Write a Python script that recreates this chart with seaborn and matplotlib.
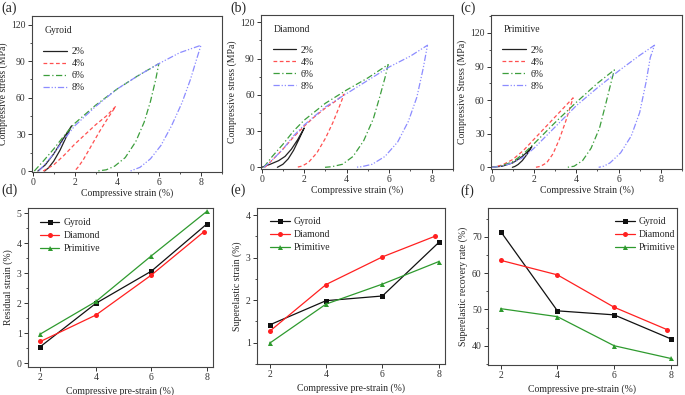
import numpy as np
import pandas as pd
import matplotlib
matplotlib.use('Agg')
import matplotlib.pyplot as plt
from matplotlib.ticker import AutoMinorLocator, MultipleLocator
import seaborn as sns

sns.set_style('ticks')
plt.rcParams['font.family'] = ['Liberation Serif', 'DejaVu Serif']

W, H = 685, 395

# ---- loading / unloading curves (strain %, stress MPa) ----
levels = ['2%', '4%', '6%', '8%']

# Gyroid
gy_load_x = {'2%': [0.25, 0.6, 1.0, 1.4, 1.85],
             '4%': [0.5, 1.0, 1.5, 2.0, 2.5, 3.0, 3.5, 3.95],
             '6%': [0.08, 0.5, 1.0, 1.5, 2.0, 3.0, 4.0, 5.0, 6.0],
             '8%': [0.3, 0.7, 1.0, 1.5, 2.0, 3.0, 4.0, 5.0, 6.0, 7.0, 8.0]}
gy_load_y = {'2%': [0, 5, 14, 25, 37],
             '4%': [0, 5, 13, 22, 30, 38, 45, 53],
             '6%': [0, 8, 18, 29, 39, 54, 67, 78, 88],
             '8%': [0, 8, 14, 26, 37, 53, 67, 78, 88, 97, 103]}
gy_unload_x = {'2%': [1.85, 1.6, 1.3, 1.0, 0.75, 0.57],
               '4%': [3.95, 3.6, 3.2, 2.8, 2.4, 2.15, 2.0],
               '6%': [6.0, 5.85, 5.6, 5.3, 4.9, 4.4, 3.9, 3.5, 3.08],
               '8%': [8.0, 7.8, 7.5, 7.1, 6.6, 6.1, 5.6, 5.1, 4.65]}
gy_unload_y = {'2%': [37, 28, 17, 8, 2.5, 0],
               '4%': [53, 44, 33, 21, 9, 3, 0],
               '6%': [88, 75, 57, 40, 24, 11, 4, 1, 0],
               '8%': [103, 92, 75, 56, 37, 21, 10, 3, 0]}

# Diamond
di_load_x = {'2%': [0.0, 0.4, 0.8, 1.1, 1.4, 1.7, 2.0],
             '4%': [0.15, 0.5, 1.0, 1.5, 2.0, 2.5, 3.0, 3.5, 3.88],
             '6%': [0.1, 0.5, 1.0, 1.5, 2.0, 3.0, 4.0, 5.0, 5.95],
             '8%': [0.1, 0.5, 1.0, 1.5, 2.0, 3.0, 4.0, 5.0, 6.0, 7.0, 7.8]}
di_load_y = {'2%': [0, 2.5, 5.5, 9, 15, 23, 32.5],
             '4%': [0, 6, 15, 25, 34, 42, 49, 55, 60.5],
             '6%': [0, 9, 19, 30, 39, 53, 64, 74, 85],
             '8%': [0, 6, 15, 26, 35, 50, 61, 72, 83, 92, 101]}
di_unload_x = {'2%': [2.0, 1.75, 1.5, 1.25, 1.0, 0.74],
               '4%': [3.88, 3.65, 3.35, 3.0, 2.6, 2.2, 1.9, 1.65],
               '6%': [5.95, 5.8, 5.55, 5.25, 4.8, 4.3, 3.8, 3.3, 2.98],
               '8%': [7.8, 7.6, 7.3, 6.9, 6.4, 5.8, 5.2, 4.7, 4.4]}
di_unload_y = {'2%': [32.5, 23, 14, 7, 2.5, 0],
               '4%': [60.5, 50, 37, 24, 12, 4, 1, 0],
               '6%': [85, 74, 58, 40, 22, 9, 2.5, 0.5, 0],
               '8%': [101, 82, 58, 38, 21, 9, 2.5, 0.5, 0]}

# Primitive
pr_load_x = {'2%': [0.0, 0.5, 1.0, 1.4, 1.7, 1.9],
             '4%': [0.0, 0.5, 1.0, 1.5, 2.0, 2.5, 3.0, 3.5, 3.85],
             '6%': [0.0, 0.5, 1.0, 1.5, 2.0, 3.0, 4.0, 5.0, 5.8],
             '8%': [0.0, 0.5, 1.0, 1.5, 2.0, 3.0, 4.0, 5.0, 6.0, 7.0, 7.7]}
pr_load_y = {'2%': [0, 1, 4, 9, 14, 18.5],
             '4%': [0, 2, 7, 15, 25, 35, 45, 55, 62],
             '6%': [0, 1.5, 5, 12, 21, 40, 58, 75, 87],
             '8%': [0, 1, 4, 9, 17, 36, 55, 71, 86, 100, 109]}
pr_unload_x = {'2%': [1.9, 1.65, 1.45, 1.25, 1.1, 0.98],
               '4%': [3.85, 3.7, 3.5, 3.2, 2.9, 2.6, 2.3, 2.08],
               '6%': [5.8, 5.65, 5.4, 5.1, 4.7, 4.3, 3.9, 3.58],
               '8%': [7.7, 7.5, 7.3, 7.0, 6.6, 6.1, 5.6, 5.3, 5.06]}
pr_unload_y = {'2%': [18.5, 11, 6, 2.5, 0.8, 0],
               '4%': [62, 53, 41, 25, 12, 4, 0.8, 0],
               '6%': [87, 76, 57, 35, 17, 6, 1, 0],
               '8%': [109, 98, 76, 49, 28, 13, 4, 1, 0]}

# ---- summary data (bottom row) ----
pre_strain = [2, 4, 6, 8]
pre_strain_diamond = [2, 4, 6, 7.88]
residual = {'Gyroid': [0.56, 2.0, 3.07, 4.64],
            'Diamond': [0.73, 1.61, 2.94, 4.37],
            'Primitive': [0.98, 2.06, 3.58, 5.06]}
superelastic = {'Gyroid': [1.42, 1.99, 2.10, 3.36],
                'Diamond': [1.27, 2.37, 3.02, 3.51],
                'Primitive': [0.99, 1.91, 2.38, 2.91]}
recovery = {'Gyroid': [71.4, 49.6, 48.5, 41.9],
            'Diamond': [63.5, 59.5, 50.6, 44.4],
            'Primitive': [50.2, 48.0, 40.0, 36.5]}

loop_colors = {'2%': '#222222', '4%': '#ff5050', '6%': '#3c9e3c', '8%': '#8c8cff'}
loop_styles = {'2%': '-', '4%': (0, (3, 2)), '6%': (0, (5, 2, 1, 2)),
               '8%': (0, (5, 1.5, 1, 1.5, 1, 1.5))}
series_colors = {'Gyroid': '#111111', 'Diamond': '#ff2020', 'Primitive': '#2e9a2e'}
series_markers = {'Gyroid': 's', 'Diamond': 'o', 'Primitive': '^'}

fig = plt.figure(figsize=(W / 100, H / 100), dpi=100)


def box(l, t, r, b):
    return [l / W, 1 - b / H, (r - l) / W, (b - t) / H]


def style_axes(ax):
    for s in ax.spines.values():
        s.set_visible(True)
        s.set_color('#444444')
        s.set_linewidth(0.8)
    ax.tick_params(which='both', direction='out', labelsize=7, colors='#333333',
                   top=False, right=False, pad=1.5)
    ax.tick_params(which='major', length=3, width=0.7)
    ax.tick_params(which='minor', length=1.6, width=0.6)
    ax.yaxis.set_minor_locator(AutoMinorLocator(2))
    ax.xaxis.set_minor_locator(AutoMinorLocator(2))


def loop_panel(rect, name, lx, ly, ux, uy, ylim, xlabel, ylabel, letter, lx_px):
    ax = fig.add_axes(box(*rect))
    for lv in levels:
        df = pd.DataFrame({'x': lx[lv] + ux[lv][1:], 'y': ly[lv] + uy[lv][1:]})
        sns.lineplot(data=df, x='x', y='y', sort=False, estimator=None, ax=ax,
                     color=loop_colors[lv], linestyle=loop_styles[lv], linewidth=0.9,
                     label=lv)
    ax.set_xlim(-0.03, 9.0)
    ax.set_ylim(*ylim)
    ax.xaxis.set_major_locator(MultipleLocator(2))
    ax.yaxis.set_major_locator(MultipleLocator(30))
    style_axes(ax)
    ax.set_xlabel(xlabel, fontsize=7, labelpad=0.5)
    ax.set_ylabel(ylabel, fontsize=7, labelpad=2)
    ax.text(0.065, 0.905, name, transform=ax.transAxes, fontsize=7, va='center')
    ax.legend(loc='upper left', bbox_to_anchor=(0.06, 0.80), frameon=False, fontsize=7,
              handlelength=2.4, handletextpad=0.5, labelspacing=0.3,
              borderpad=0, borderaxespad=0)
    fig.text(lx_px / W, 1 - 2 / H, letter, fontsize=10, va='top')
    return ax


def summary_panel(rect, data, ylim, yticks, ylabel, letter, lx_px, loc, anchor):
    ax = fig.add_axes(box(*rect))
    for name, vals in data.items():
        xs = pre_strain_diamond if name == 'Diamond' else pre_strain
        sns.lineplot(x=xs, y=vals, ax=ax, color=series_colors[name],
                     marker=series_markers[name], markersize=3.6, markeredgewidth=0,
                     linewidth=0.9, label=name)
    ax.set_xticks(pre_strain)
    ax.set_yticks(yticks)
    ax.set_ylim(*ylim)
    ax.set_xlim(1.55, 8.22)
    style_axes(ax)
    ax.xaxis.set_minor_locator(AutoMinorLocator(1))
    ax.set_xlabel('Compressive pre-strain (%)', fontsize=7, labelpad=3)
    ax.set_ylabel(ylabel, fontsize=7, labelpad=3)
    ax.legend(loc=loc, bbox_to_anchor=anchor, frameon=False, fontsize=7,
              handlelength=2.0, handletextpad=0.4, labelspacing=0.4,
              borderpad=0, borderaxespad=0)
    fig.text(lx_px / W, 1 - 184 / H, letter, fontsize=10, va='top')
    return ax


loop_panel((32, 16, 222, 172), 'Gyroid', gy_load_x, gy_load_y, gy_unload_x, gy_unload_y,
           (-0.8, 127), 'Compressive strain (%)', 'Compressive stress (MPa)', '(a)', 1)
loop_panel((261, 15, 453, 169), 'Diamond', di_load_x, di_load_y, di_unload_x, di_unload_y,
           (-1.4, 126), 'Compressive strain (%)', 'Compressive stress (MPa)', '(b)', 230)
loop_panel((491, 15, 682, 169), 'Primitive', pr_load_x, pr_load_y, pr_unload_x, pr_unload_y,
           (-1.5, 136), 'Compressive Strain (%)', 'Compressive Stress (MPa)', '(c)', 460)

summary_panel((28, 208, 213, 367), residual, (-0.12, 5.17), [0, 1, 2, 3, 4, 5],
              'Residual strain (%)', '(d)', 1, 'upper left', (0.065, 0.935))
summary_panel((257, 208, 445, 364), superelastic, (0.5, 4.17), [1, 2, 3, 4],
              'Superelastic strain (%)', '(e)', 230, 'upper left', (0.07, 0.94))
summary_panel((488, 208, 677, 365), recovery, (34.7, 77.9), [40, 50, 60, 70],
              'Superelastic recovery rate (%)', '(f)', 460, 'upper right', (0.99, 0.94))

fig.savefig('out.png', dpi=100)
